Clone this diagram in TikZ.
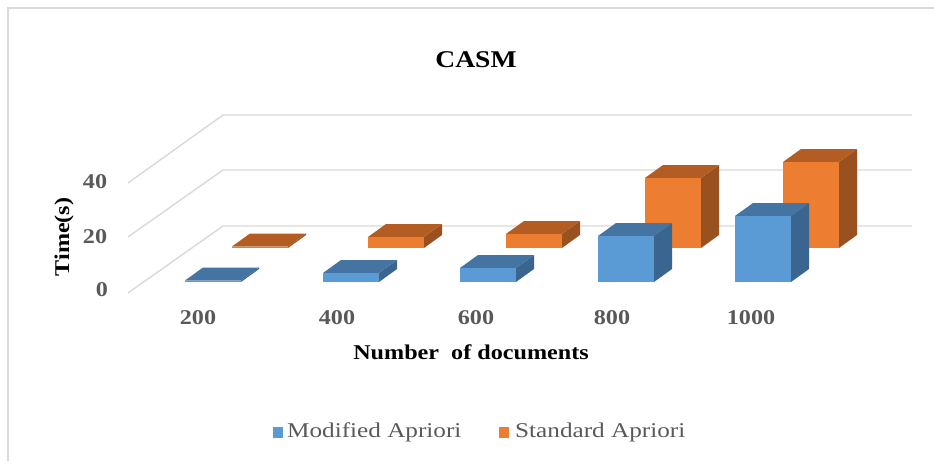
\documentclass[tikz,border=0pt]{standalone}
\usepackage{fontspec}
\setmainfont{Liberation Serif}
\usepackage{graphicx}

\definecolor{framegray}{HTML}{D9D9D9}
\definecolor{gridgray}{HTML}{D9D9D9}
\definecolor{tickgray}{HTML}{595959}
\definecolor{bluefront}{HTML}{5B9BD5}
\definecolor{bluetop}{HTML}{4574A3}
\definecolor{blueside}{HTML}{3A6590}
\definecolor{orangefront}{HTML}{ED7D31}
\definecolor{orangetop}{HTML}{B45D22}
\definecolor{orangeside}{HTML}{9A5120}

% horizontally widened text, as the chart sets it
\newcommand\widetext[1]{\scalebox{1.15}[1]{#1}}

% one 3-D column: #1 left x, #2 base y, #3 top y, #4 series colour prefix
\newcommand\column[4]{%
  \fill[#4side]  (#1+56,#2) -- (#1+56,#3) -- (#1+74,#3-13) -- (#1+74,#2-13) -- cycle;
  \fill[#4top]   (#1,#3) -- (#1+56,#3) -- (#1+74,#3-13) -- (#1+18,#3-13) -- cycle;
  \fill[#4front] (#1,#2) rectangle (#1+56,#3);
}

\begin{document}
\begin{tikzpicture}[x=1pt,y=-1pt,
  frameline/.style={draw=framegray,line width=1.6pt},
  gridline/.style={draw=gridgray,line width=1.4pt},
  ticklabel/.style={inner sep=0pt,text=tickgray,font=\fontsize{21}{21}\selectfont\bfseries},
  axistitle/.style={inner sep=0pt,text=black,font=\fontsize{21}{21}\selectfont\bfseries},
  charttitle/.style={inner sep=0pt,text=black,font=\fontsize{24}{24}\selectfont\bfseries},
  legendtext/.style={inner sep=0pt,anchor=west,text=tickgray,font=\fontsize{21}{21}\selectfont},
]
\useasboundingbox (0,0) rectangle (934,461);
\fill[white] (0,0) rectangle (934,461);

% chart frame (top and left edges)
\draw[frameline] (8,461) -- (8,8) -- (934,8);

% gridlines: side wall diagonals and back wall
\foreach \gy/\fy in {115/183,170/237,226/293}{
  \draw[gridline] (128,\fy) -- (223,\gy) -- (912,\gy);
}

% back row: Standard Apriori
\column{232}{248}{246.5}{orange}
\column{368}{248}{237}{orange}
\column{506}{248}{234}{orange}
\column{645}{248}{178}{orange}
\column{783}{248}{162}{orange}

% front row: Modified Apriori
\column{185}{282}{280.5}{blue}
\column{323}{282}{273}{blue}
\column{460}{282}{268}{blue}
\column{598}{282}{236}{blue}
\column{735}{282}{216}{blue}

% title
\node[charttitle] (title) at (476,60) {\widetext{CASM}};

% value axis
\node[ticklabel] (y0)  at (102,290) {\widetext{0}};
\node[ticklabel] (y20) at (95,237) {\widetext{20}};
\node[ticklabel] (y40) at (95,182) {\widetext{40}};
\node[axistitle,rotate=90] (ytitle) at (64,237) {\widetext{Time(s)}};

% category axis
\node[ticklabel] (x200)  at (198,318) {\widetext{200}};
\node[ticklabel] (x400)  at (337,318) {\widetext{400}};
\node[ticklabel] (x600)  at (476,318) {\widetext{600}};
\node[ticklabel] (x800)  at (612,318) {\widetext{800}};
\node[ticklabel] (x1000) at (751,318) {\widetext{1000}};
\node[axistitle] (xtitle) at (471,352) {\widetext{Number\ \ of documents}};

% legend
\fill[bluefront]   (273,427) rectangle (283,438);
\node[legendtext] (legA) at (287,432) {\scalebox{1.2}[1]{Modified Apriori}};
\fill[orangefront] (499,427) rectangle (509,438);
\node[legendtext] (legB) at (515,432) {\scalebox{1.2}[1]{Standard Apriori}};
\end{tikzpicture}
\end{document}
